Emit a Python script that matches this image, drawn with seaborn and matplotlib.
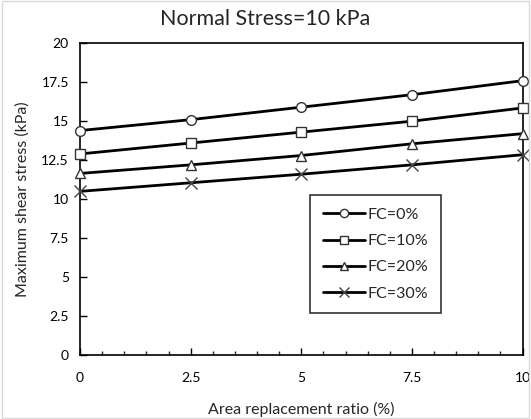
import matplotlib
matplotlib.use("Agg")
import matplotlib.pyplot as plt
from matplotlib.ticker import MultipleLocator
from matplotlib.patches import Rectangle
import seaborn as sns
import pandas as pd

# Area replacement ratio (%) and maximum shear stress (kPa) per fines content
ratio = [0, 2.5, 5, 7.5, 10]
fc0 = [14.4, 15.1, 15.9, 16.7, 17.6]
fc10 = [12.9, 13.6, 14.3, 15.0, 15.85]
fc20 = [11.65, 12.2, 12.8, 13.55, 14.2]
fc30 = [10.5, 11.05, 11.6, 12.2, 12.85]
labels = ["FC=0%", "FC=10%", "FC=20%", "FC=30%"]
markers = ["o", "s", "^", "x"]
xticks = [0, 2.5, 5, 7.5, 10]
xtick_labels = ["0", "2.5", "5", "7.5", "10"]
yticks = [0, 2.5, 5, 7.5, 10, 12.5, 15, 17.5, 20]
ytick_labels = ["0", "2.5", "5", "7.5", "10", "12.5", "15", "17.5", "20"]

sns.set_style("white")
plt.rcParams["font.family"] = ["Lato", "DejaVu Sans"]

fig = plt.figure(figsize=(5.31, 4.19), dpi=100)
ax = fig.add_axes([0.1507, 0.1527, 0.984 - 0.1507, 0.8967 - 0.1527])

for vals, lab, mk in zip([fc0, fc10, fc20, fc30], labels, markers):
    df = pd.DataFrame({"x": ratio, "y": vals})
    kw = dict(markerfacecolor="white", markeredgecolor="#333333",
              markeredgewidth=1.0, markersize=7)
    if mk == "x":
        kw = dict(markeredgecolor="#444444", markeredgewidth=1.0, markersize=9)
    sns.lineplot(data=df, x="x", y="y", ax=ax, color="black", linewidth=2,
                 marker=mk, label=lab, clip_on=False, zorder=3, **kw)

ax.set_xlim(0, 10)
ax.set_ylim(0, 20)
ax.set_xticks(xticks, xtick_labels)
ax.set_yticks(yticks, ytick_labels)
ax.xaxis.set_minor_locator(MultipleLocator(0.5))
ax.tick_params(axis="both", which="major", direction="in", length=5, width=1,
               colors="black", labelsize=10)
ax.tick_params(axis="x", which="major", bottom=True, pad=12)
ax.tick_params(axis="y", which="major", left=True, pad=8)
ax.tick_params(axis="x", which="minor", direction="in", length=3, width=1,
               bottom=True)
for s in ax.spines.values():
    s.set_color("black")
    s.set_linewidth(1.2)

ax.set_xlabel("Area replacement ratio (%)", fontsize=11.5, labelpad=13)
ax.set_ylabel("Maximum shear stress (kPa)", fontsize=11.5, labelpad=8)
fig.text(0.5, 0.955, "Normal Stress=10 kPa", ha="center", va="center",
         fontsize=15.5)

leg = ax.legend(loc="upper left", bbox_to_anchor=(0.5205, 0.513), fontsize=11.5,
                frameon=True, fancybox=False, handlelength=2.6,
                handletextpad=0.2, labelspacing=0.75, borderpad=0.8,
                borderaxespad=0, markerscale=0.85)
leg.get_frame().set_edgecolor("black")
leg.get_frame().set_linewidth(1.2)
leg.set_zorder(10)

fig.patches.append(Rectangle((0.003, 0.003), 0.994, 0.994, transform=fig.transFigure,
                             fill=False, edgecolor="#d9d9d9", linewidth=1))

fig.savefig("out.png", dpi=100)
